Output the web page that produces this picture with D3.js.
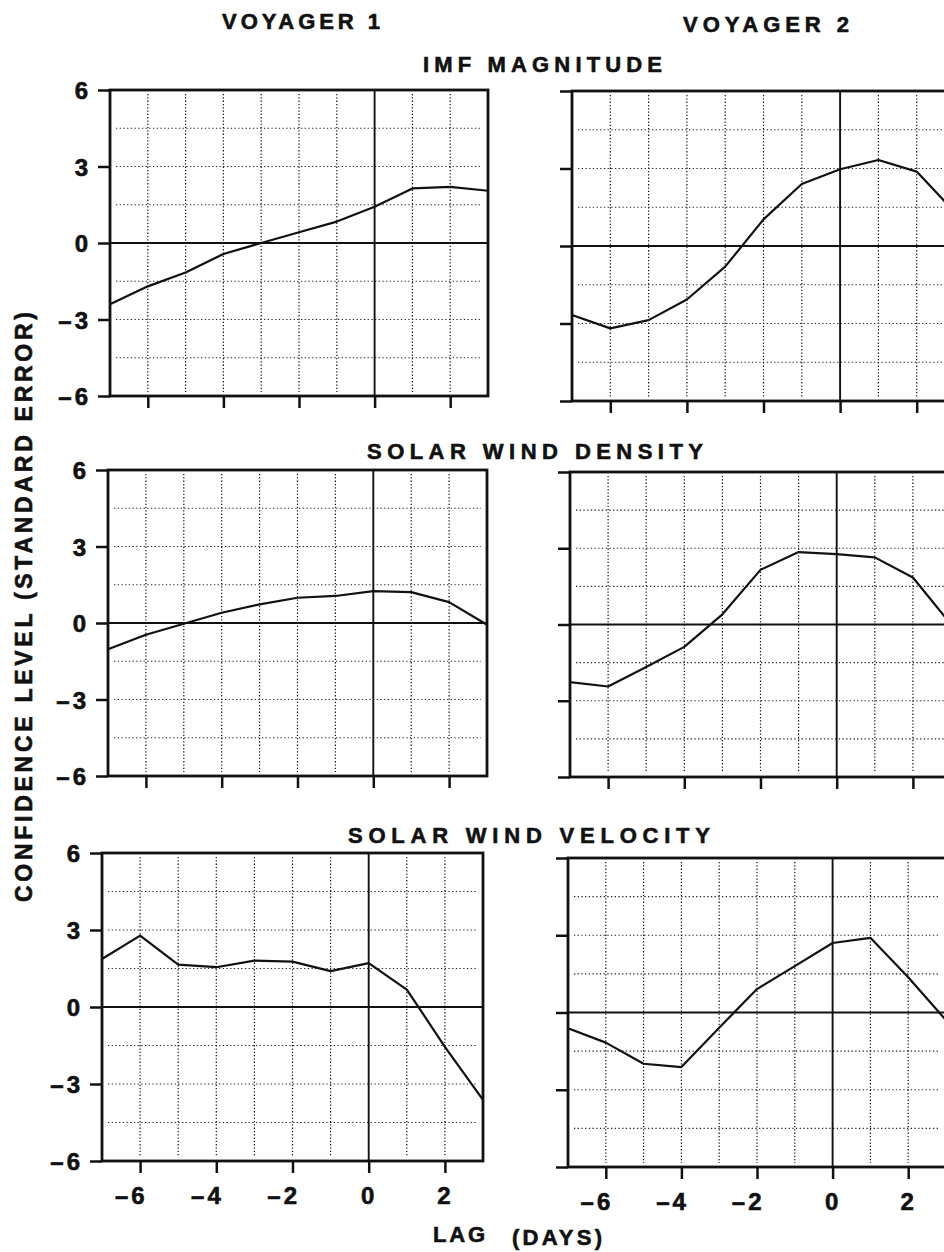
<!DOCTYPE html>
<html>
<head>
<meta charset="utf-8">
<script src="https://cdn.jsdelivr.net/npm/d3@7"></script>
<style>
  html, body { margin: 0; padding: 0; background: #fff; }
  svg { display: block; }
  text { font-family: "Liberation Sans", Arial, Helvetica, sans-serif; font-weight: bold; fill: #111; stroke: #111; stroke-width: 0.6px; }
</style>
</head>
<body>
<svg id="chart" width="944" height="1252"></svg>
<script>
// ---------------- data ----------------
const lagDays = [-7, -6, -5, -4, -3, -2, -1, 0, 1, 2, 3];

const v1Imf      = [-2.40, -1.70, -1.16, -0.43, 0.00, 0.42, 0.84, 1.42, 2.14, 2.20, 2.05];
const v2Imf      = [-2.67, -3.19, -2.87, -2.07, -0.80, 1.03, 2.40, 2.97, 3.33, 2.88, 1.30];
const v1Density  = [-1.03, -0.46, -0.03, 0.40, 0.73, 0.99, 1.06, 1.25, 1.21, 0.82, -0.07];
const v2Density  = [-2.27, -2.44, -1.67, -0.88, 0.40, 2.15, 2.85, 2.77, 2.64, 1.85, 0.00];
const v1Velocity = [1.87, 2.78, 1.65, 1.55, 1.81, 1.77, 1.40, 1.71, 0.68, -1.55, -3.62];
const v2Velocity = [-0.61, -1.17, -1.99, -2.12, -0.59, 0.91, 1.80, 2.70, 2.90, 1.37, -0.30];

const xTickValues = [-6, -4, -2, 0, 2];
const yTickValues = [-6, -3, 0, 3, 6];
const xGridValues = [-6, -5, -4, -3, -2, -1, 1, 2];
const yGridValues = [-4.5, -3, -1.5, 1.5, 3, 4.5];
const xDomain = [-7, 3];
const yDomain = [-6, 6];

const columnTitles = ["VOYAGER 1", "VOYAGER 2"];
const rowTitles = ["IMF MAGNITUDE", "SOLAR WIND DENSITY", "SOLAR WIND VELOCITY"];
const xAxisTitle = ["LAG", "(DAYS)"];
const yAxisTitle = "CONFIDENCE LEVEL (STANDARD ERROR)";

// ---------------- layout ----------------
const svg = d3.select("#chart");

const panels = [
  { values: v1Imf,      left: 110, right: 488, top: 90,  bottom: 396,  yLabels: true,  xLabels: false },
  { values: v2Imf,      left: 572, right: 955, top: 91,  bottom: 401,  yLabels: false, xLabels: false },
  { values: v1Density,  left: 108, right: 487, top: 470, bottom: 776,  yLabels: true,  xLabels: false },
  { values: v2Density,  left: 570, right: 951, top: 472, bottom: 777,  yLabels: false, xLabels: false },
  { values: v1Velocity, left: 102, right: 483, top: 853, bottom: 1161, yLabels: true,  xLabels: true },
  { values: v2Velocity, left: 568, right: 946, top: 858, bottom: 1167, yLabels: false, xLabels: true }
];

panels.forEach(p => {
  const x = d3.scaleLinear().domain(xDomain).range([p.left, p.right]);
  const y = d3.scaleLinear().domain(yDomain).range([p.bottom, p.top]);
  const g = svg.append("g");

  // dotted grid
  g.selectAll(".vg").data(xGridValues).join("line")
    .attr("x1", d => x(d)).attr("x2", d => x(d))
    .attr("y1", p.top + 4).attr("y2", p.bottom - 4)
    .attr("stroke", "#111").attr("stroke-width", 1.2)
    .attr("stroke-dasharray", "1.3,2");
  g.selectAll(".hg").data(yGridValues).join("line")
    .attr("x1", p.left + 6).attr("x2", p.right - 6)
    .attr("y1", d => y(d)).attr("y2", d => y(d))
    .attr("stroke", "#222").attr("stroke-width", 1.1)
    .attr("stroke-dasharray", "1.3,2.4");

  // zero lines
  g.append("line")
    .attr("x1", x(0)).attr("x2", x(0)).attr("y1", p.top).attr("y2", p.bottom)
    .attr("stroke", "#111").attr("stroke-width", 1.9);
  g.append("line")
    .attr("x1", p.left).attr("x2", p.right).attr("y1", y(0)).attr("y2", y(0))
    .attr("stroke", "#111").attr("stroke-width", 1.9);

  // data line
  const line = d3.line().x((d, i) => x(lagDays[i])).y(d => y(d));
  g.append("path").datum(p.values)
    .attr("d", line)
    .attr("fill", "none").attr("stroke", "#111").attr("stroke-width", 2.2)
    .attr("stroke-linejoin", "round");

  // frame
  g.append("rect")
    .attr("x", p.left).attr("y", p.top)
    .attr("width", p.right - p.left).attr("height", p.bottom - p.top)
    .attr("fill", "none").attr("stroke", "#111").attr("stroke-width", 2.8);

  // axes (ticks outside)
  const xAxis = d3.axisBottom(x).tickValues(xTickValues).tickSize(12).tickPadding(14)
    .tickFormat(p.xLabels ? (d => d < 0 ? "\u2013" + Math.abs(d) : String(d)) : "");
  const xa = g.append("g").attr("transform", `translate(0,${p.bottom})`).call(xAxis);
  xa.select(".domain").remove();
  xa.selectAll(".tick line").attr("stroke", "#111").attr("stroke-width", 2.5);
  xa.selectAll(".tick text")
    .attr("font-size", 24).attr("font-family", "Liberation Sans, Arial, sans-serif")
    .attr("font-weight", "bold").attr("fill", "#111")
    .attr("letter-spacing", 3)
    .attr("text-anchor", d => d < 0 ? "end" : "middle")
    .attr("dx", d => d < 0 ? 7 : 0)
    .attr("dy", "0.72em");

  const yAxis = d3.axisLeft(y).tickValues(yTickValues).tickSize(12).tickPadding(10)
    .tickFormat(p.yLabels ? (d => d < 0 ? "\u2013" + Math.abs(d) : String(d)) : "");
  const ya = g.append("g").attr("transform", `translate(${p.left},0)`).call(yAxis);
  ya.select(".domain").remove();
  ya.selectAll(".tick line").attr("stroke", "#111").attr("stroke-width", 2.5);
  ya.selectAll(".tick text")
    .attr("font-size", 24).attr("font-family", "Liberation Sans, Arial, sans-serif")
    .attr("font-weight", "bold").attr("fill", "#111")
    .attr("letter-spacing", 3).attr("dx", 3)
    .attr("dy", "0.36em");
});

// ---------------- titles ----------------
function spacedText(str, x0, x1, baseline, size) {
  svg.append("text")
    .attr("x", x0).attr("y", baseline)
    .attr("font-size", size)
    .attr("textLength", x1 - x0).attr("lengthAdjust", "spacing")
    .text(str);
}
spacedText(columnTitles[0], 222, 380, 29, 22);
spacedText(columnTitles[1], 683, 849, 32, 22);
spacedText(rowTitles[0], 423, 662, 72, 22);
spacedText(rowTitles[1], 367, 703, 459, 22);
spacedText(rowTitles[2], 348, 710, 843, 22);
spacedText(xAxisTitle[0], 433, 485, 1242, 22);
spacedText(xAxisTitle[1], 512, 602, 1245, 22);

// rotated y-axis title
svg.append("text")
  .attr("transform", "translate(32,902) rotate(-90)")
  .attr("x", 0).attr("y", 0)
  .attr("font-size", 23)
  .attr("textLength", 590).attr("lengthAdjust", "spacing")
  .text(yAxisTitle);
</script>
</body>
</html>
